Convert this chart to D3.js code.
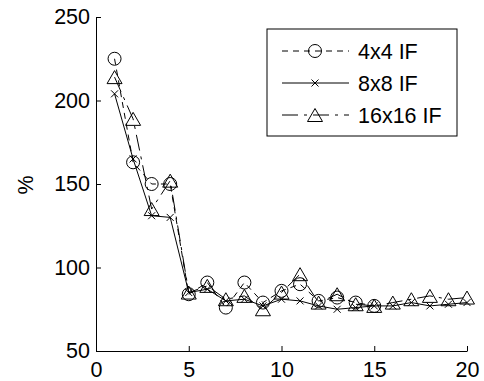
<!DOCTYPE html>
<html>
<head>
<meta charset="utf-8">
<script src="https://cdn.jsdelivr.net/npm/d3@7/dist/d3.min.js"></script>
<style>
  body { margin: 0; background: #fff; }
  svg text { font-family: "Liberation Sans", Arial, sans-serif; }
</style>
</head>
<body>
<div id="chart"></div>
<script>
// data
var seriesNames = ["4x4 IF", "8x8 IF", "16x16 IF"];
var vals4 = [225, 163, 150, 150, 84, 91, 76, 91, 79, 86, 90, 80, 82, 79, 77];
var vals8 = [204, 165, 131, 130, 85, 87, 80, 81, 77, 81, 80, 77, 75, 76, 77, 77, 79, 77, 78, 79];
var vals16 = [214, 189, 135, 152, 85, 89, 81, 83, 75, 85, 96, 79, 84, 78, 77, 79, 81, 83, 81, 82];
var xTicks = [0, 5, 10, 15, 20];
var yTicks = [50, 100, 150, 200, 250];

var width = 484, height = 381;
var fontSize = 21.5;
var svg = d3.select("#chart").append("svg")
    .attr("width", width)
    .attr("height", height);

var x = d3.scaleLinear().domain([0, 20]).range([96, 467]);
var y = d3.scaleLinear().domain([50, 250]).range([351, 17]);

// axes, ticks pointing inward like matlab
svg.append("g")
    .attr("transform", "translate(0," + y(50) + ")")
    .call(d3.axisBottom(x).tickValues(xTicks).tickSizeInner(-5).tickSizeOuter(0).tickPadding(11))
    .call(function (g) {
        g.selectAll("text").attr("font-size", fontSize).attr("font-family", "Liberation Sans, Arial").attr("fill", "#000");
        g.selectAll("line,path").attr("stroke", "#000");
    });

svg.append("g")
    .attr("transform", "translate(" + x(0) + ",0)")
    .call(d3.axisLeft(y).tickValues(yTicks).tickSizeInner(-5).tickSizeOuter(0).tickPadding(6))
    .call(function (g) {
        g.selectAll("text").attr("font-size", fontSize).attr("font-family", "Liberation Sans, Arial").attr("fill", "#000");
        g.selectAll("line,path").attr("stroke", "#000");
    });

// y label
svg.append("text")
    .attr("transform", "translate(33,185) rotate(-90)")
    .attr("text-anchor", "middle")
    .attr("font-size", fontSize)
    .text("%");

var series = [
    { name: seriesNames[0], values: vals4, dash: "6,5", marker: "circle" },
    { name: seriesNames[1], values: vals8, dash: null, marker: "cross" },
    { name: seriesNames[2], values: vals16, dash: "16,6,3,6", marker: "triangle" }
];

var line = d3.line()
    .x(function (d, i) { return x(i + 1); })
    .y(function (d) { return y(d); });

function drawMarker(g, type, cx, cy) {
    if (type == "circle") {
        g.append("circle").attr("cx", cx).attr("cy", cy).attr("r", 6.5)
            .attr("fill", "none").attr("stroke", "#000");
    } else if (type == "cross") {
        var s = 3.5;
        g.append("path")
            .attr("d", "M" + (cx - s) + "," + (cy - s) + "L" + (cx + s) + "," + (cy + s) +
                "M" + (cx - s) + "," + (cy + s) + "L" + (cx + s) + "," + (cy - s))
            .attr("stroke", "#000").attr("fill", "none");
    } else {
        var w = 7.5, h = 6.5;
        g.append("path")
            .attr("d", "M" + cx + "," + (cy - h) + "L" + (cx + w) + "," + (cy + h) + "L" + (cx - w) + "," + (cy + h) + "Z")
            .attr("stroke", "#000").attr("fill", "none");
    }
}

series.forEach(function (s) {
    var g = svg.append("g");
    g.append("path")
        .datum(s.values)
        .attr("d", line)
        .attr("fill", "none")
        .attr("stroke", "#000")
        .attr("stroke-width", 1)
        .attr("stroke-dasharray", s.dash);
    s.values.forEach(function (d, i) {
        drawMarker(g, s.marker, x(i + 1), y(d));
    });
});

// legend
var legend = svg.append("g");
legend.append("rect")
    .attr("x", 267).attr("y", 29)
    .attr("width", 190).attr("height", 107)
    .attr("fill", "#fff").attr("stroke", "#000");

series.forEach(function (s, i) {
    var ly = 51 + i * 32;
    legend.append("line")
        .attr("x1", 282).attr("x2", 349)
        .attr("y1", ly).attr("y2", ly)
        .attr("stroke", "#000")
        .attr("stroke-dasharray", s.dash);
    drawMarker(legend, s.marker, 315, ly);
    legend.append("text")
        .attr("x", 358).attr("y", ly)
        .attr("dy", "0.35em")
        .attr("font-size", fontSize)
        .text(s.name);
});
</script>
</body>
</html>
